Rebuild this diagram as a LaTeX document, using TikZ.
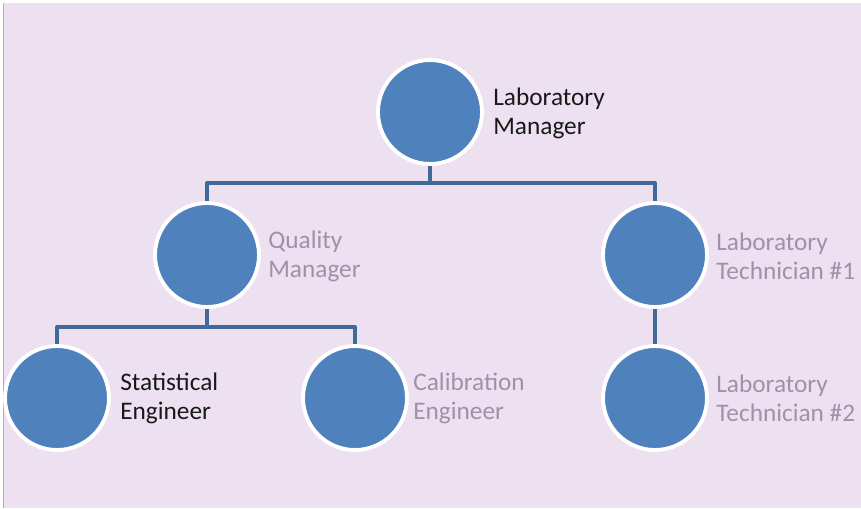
\documentclass[tikz,border=0pt]{standalone}
\usepackage{fontspec}
\setmainfont{Carlito}
\definecolor{bgpink}{RGB}{237,225,241}
\definecolor{edgegrey}{RGB}{185,168,190}
\definecolor{circblue}{RGB}{79,129,189}
\definecolor{linkblue}{RGB}{65,106,152}
\definecolor{fogtext}{RGB}{140,125,150}
\tikzset{
	person/.style={circle, fill=circblue, draw=white, line width=2.2pt, minimum size=2.08cm, inner sep=0pt},
	role/.style={anchor=west, align=left, inner sep=0pt, font=\fontsize{14.4}{16.6}\selectfont, text=black!90},
	fogrole/.style={role, text=fogtext, opacity=0.8},
	link/.style={draw=linkblue, line width=2.3pt}
}
\begin{document}
\begin{tikzpicture}[x=0.02cm, y=-0.02cm, line join=round]
	\useasboundingbox (0,0) rectangle (861,508);
	\fill[white] (0,0) rectangle (861,508);
	\fill[bgpink] (3,3) rectangle (861,508);
	\draw[edgegrey, line width=1pt] (3.5,3) -- (3.5,508);
	% circles
	\node[person] (lm) at (430,112) {};
	\node[person] (qm) at (207,255) {};
	\node[person] (lt1) at (655,255) {};
	\node[person] (se) at (57,398) {};
	\node[person] (ce) at (355,398) {};
	\node[person] (lt2) at (655,398) {};
	% branch points
	\coordinate (b1) at (430,183);
	\coordinate (b2) at (207,327);
	% connectors
	\draw[link] (lm.south) -- (b1);
	\draw[link] (qm.north) |- (b1) -| (lt1.north);
	\draw[link] (qm.south) -- (b2);
	\draw[link] (se.north) |- (b2) -| (ce.north);
	\draw[link] (lt1.south) -- (lt2.north);
	% labels
	\node[role] (lmtxt) at (493,113) {Laboratory\\Manager};
	\node[fogrole] (qmtxt) at (268,256) {Quality\\Manager};
	\node[fogrole] (lt1txt) at (716,256) {Laboratory\\Technician \#1};
	\node[role] (setxt) at (120,398) {Statistical\\Engineer};
	\node[fogrole] (cetxt) at (413,398) {Calibration\\Engineer};
	\node[fogrole] (lt2txt) at (716,398) {Laboratory\\Technician \#2};
\end{tikzpicture}
\end{document}
